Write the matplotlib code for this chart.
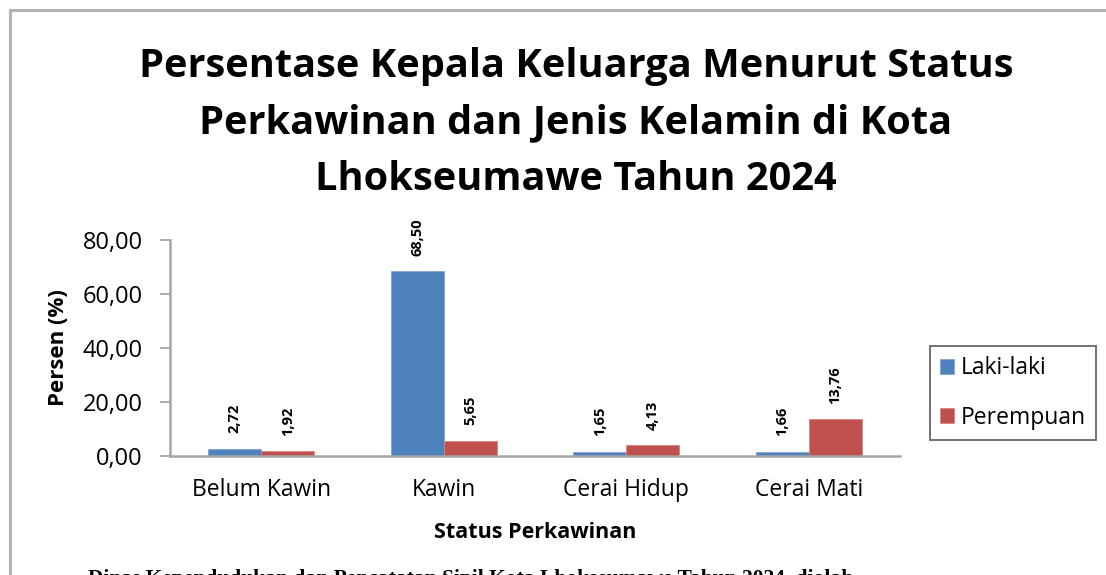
import matplotlib
matplotlib.use("Agg")
import matplotlib.pyplot as plt
from matplotlib.patches import Rectangle
import numpy as np

categories = ["Belum Kawin", "Kawin", "Cerai Hidup", "Cerai Mati"]
laki_laki = [2.72, 68.50, 1.65, 1.66]
perempuan = [1.92, 5.65, 4.13, 13.76]
series_names = ["Laki-laki", "Perempuan"]
yticks = [0, 20, 40, 60, 80]

BLUE = "#4F81BD"
RED = "#C0504D"
GRAY = "#A6A6A6"
FONT = "Open Sans"

W, H = 1106, 575
fig = plt.figure(figsize=(W / 100, H / 100), dpi=100)

# gray chart frame, cropped at right and bottom like the source scan
fig.patches.append(Rectangle((10 / W, -0.1), 1.2, 1.1 - 10 / H, transform=fig.transFigure,
                             fill=False, edgecolor="#B3B3B3", linewidth=2.2))

ax = fig.add_axes([170 / W, 1 - 456 / H, 730 / W, 216 / H])
x = np.arange(len(categories))
bw = 0.29
b1 = ax.bar(x - bw / 2, laki_laki, bw, color=BLUE, edgecolor="#7FA3D0", linewidth=0.6,
            label=series_names[0])
b2 = ax.bar(x + bw / 2, perempuan, bw, color=RED, edgecolor="#D98583", linewidth=0.6,
            label=series_names[1])

for bars in (b1, b2):
    for r in bars:
        v = r.get_height()
        ax.annotate(f"{v:.2f}".replace(".", ","), (r.get_x() + r.get_width() / 2, v),
                    xytext=(0, 11), textcoords="offset points", rotation=90,
                    ha="center", va="bottom", fontsize=10.5, fontweight="bold",
                    family=FONT)

ax.set_xlim(-0.5, len(categories) - 0.5)
ax.set_ylim(0, 80)
ax.set_yticks(yticks)
ax.set_yticklabels([f"{t:.2f}".replace(".", ",") for t in yticks], fontsize=17, family=FONT)
ax.set_xticks(x)
ax.set_xticklabels(categories, fontsize=16.5, family=FONT)
ax.tick_params(axis="x", length=0, pad=16)
ax.tick_params(axis="y", length=7.5, color=GRAY, width=1.3, pad=12)
for s in ("top", "right"):
    ax.spines[s].set_visible(False)
for s in ("left", "bottom"):
    ax.spines[s].set_color(GRAY)
    ax.spines[s].set_linewidth(1.8)

ax.set_xlabel("Status Perkawinan", fontsize=15.5, fontweight="bold", family=FONT, labelpad=14)
ax.set_ylabel("Persen (%)", fontsize=16, fontweight="bold", family=FONT, labelpad=10)

fig.text(576 / W, 1 - 123 / H,
         "Persentase Kepala Keluarga Menurut Status\nPerkawinan dan Jenis Kelamin di Kota\nLhokseumawe Tahun 2024",
         ha="center", va="center", fontsize=28.6, fontweight="bold", family=FONT,
         linespacing=1.6)

leg = fig.legend(handles=[b1, b2], loc="center left", bbox_to_anchor=(930 / W, 1 - 393 / H),
                 prop={"family": FONT, "size": 16.5}, frameon=True, fancybox=False,
                 handlelength=0.6, handleheight=0.6, handletextpad=0.3,
                 labelspacing=1.1, borderpad=0.45, borderaxespad=0)
leg.get_frame().set_edgecolor("#404040")
leg.get_frame().set_linewidth(1.3)

fig.text(88 / W, 1 - 569 / H,
         "Dinas Kependudukan dan Pencatatan Sipil Kota Lhokseumawe Tahun 2024, diolah",
         ha="left", va="top", fontsize=15.5, fontweight="bold", family="Liberation Serif")

fig.savefig("out.png", dpi=100)
